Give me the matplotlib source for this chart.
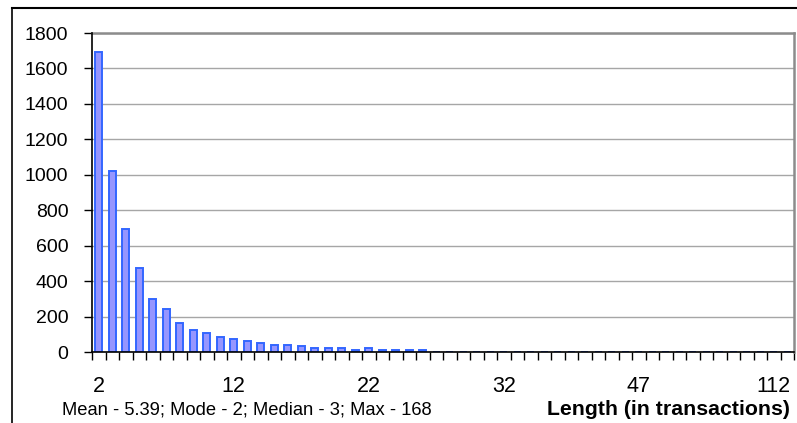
import matplotlib
matplotlib.use("Agg")
import matplotlib.pyplot as plt
from matplotlib.lines import Line2D
import numpy as np

# Transaction lengths that occur (category axis) and how many sequences have each length
lengths = list(range(2, 33)) + [33, 34, 35, 36, 37, 38, 39, 41, 43, 47,
                                48, 50, 52, 55, 58, 63, 70, 79, 91, 112, 168]
counts = [1690, 1020, 692, 476, 301, 241, 165, 124, 105, 83,
          72, 62, 53, 41, 41, 34, 23, 21, 21, 10,
          21, 10, 10, 10, 10, 2, 2, 2, 1, 1,
          1, 1, 1, 1, 1, 1, 1, 1, 1, 1,
          1, 1, 1, 1, 1, 1, 1, 1, 1, 1,
          1, 1]
y_ticks = [0, 200, 400, 600, 800, 1000, 1200, 1400, 1600, 1800]
summary = "Mean - 5.39; Mode - 2; Median - 3; Max - 168"
x_title = "Length (in transactions)"

plt.rcParams["font.family"] = ["Liberation Sans", "DejaVu Sans"]

W, H = 797, 423
fig = plt.figure(figsize=(W / 100, H / 100), dpi=100)
ax = fig.add_axes([92 / W, 1 - 352 / H, (794 - 92) / W, (352 - 33) / H])

pos = np.arange(len(lengths))
ax.bar(pos, counts, width=0.52, color="#9696ff", edgecolor="#3366ff",
       linewidth=1.4, zorder=2)

ax.set_xlim(-0.5, len(lengths) - 0.5)
ax.set_ylim(0, 1800)

# gridlines
ax.set_yticks(y_ticks)
ax.yaxis.grid(True, color="#a6a6a6", linewidth=1.0, zorder=0)
ax.set_axisbelow(True)

# category ticks: marks between categories, labels every tenth category
ax.set_xticks(pos[::10])
ax.set_xticklabels([str(lengths[i]) for i in pos[::10]], fontsize=15.5)
ax.set_xticks(np.arange(len(lengths) + 1) - 0.5, minor=True)
ax.tick_params(axis="x", which="major", length=0, pad=17)
ax.tick_params(axis="x", which="minor", length=6, width=1, color="black",
               direction="out")
ax.tick_params(axis="y", length=6, width=1, color="black", direction="out",
               labelsize=14, pad=11)

for side in ("left", "bottom"):
    ax.spines[side].set_color("black")
    ax.spines[side].set_linewidth(1.2)
    ax.spines[side].set_zorder(3)
for side in ("top", "right"):
    ax.spines[side].set_color("#8c8c8c")
    ax.spines[side].set_linewidth(1.8)

fig.text(62 / W, 1 - 410 / H, summary, fontsize=13.2, ha="left", va="center")
fig.text(790 / W, 1 - 409 / H, x_title, fontsize=15.3, fontweight="bold",
         ha="right", va="center")

# outer frame
fig.add_artist(Line2D([12 / W, 1.0], [1 - 8 / H, 1 - 8 / H], color="black",
                      linewidth=1.5, transform=fig.transFigure))
fig.add_artist(Line2D([12 / W, 12 / W], [0, 1 - 8 / H], color="black",
                      linewidth=1.2, transform=fig.transFigure))

fig.savefig("out.png", dpi=100)
